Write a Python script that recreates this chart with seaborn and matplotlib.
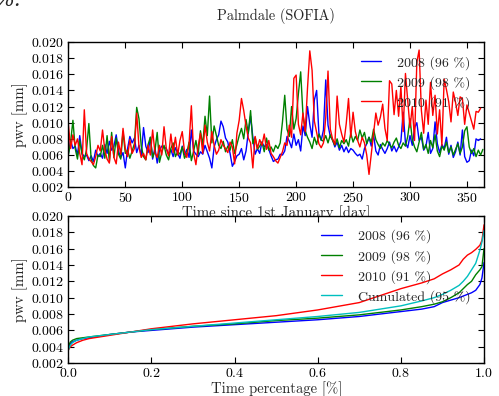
import numpy as np
import pandas as pd
import matplotlib
matplotlib.use("Agg")
import matplotlib.pyplot as plt
import seaborn as sns

# ---------------- data ----------------
days_2008 = list(range(0, 363, 2))
pwv_2008 = [0.0062, 0.0078, 0.0068, 0.0071, 0.0060, 0.0084, 0.0062, 0.0058, 0.0060, 0.0053,
            0.0059, 0.0052, 0.0066, 0.0058, 0.0062, 0.0056, 0.0073, 0.0062, 0.0077, 0.0066,
            0.0071, 0.0085, 0.0065, 0.0057, 0.0063, 0.0044, 0.0068, 0.0083, 0.0075, 0.0081,
            0.0063, 0.0072, 0.0059, 0.0094, 0.0071, 0.0063, 0.0082, 0.0055, 0.0069, 0.0050,
            0.0066, 0.0071, 0.0070, 0.0068, 0.0061, 0.0067, 0.0058, 0.0069, 0.0062, 0.0056,
            0.0071, 0.0060, 0.0067, 0.0057, 0.0091, 0.0065, 0.0061, 0.0058, 0.0064, 0.0061,
            0.0072, 0.0064, 0.0056, 0.0044, 0.0070, 0.0079, 0.0085, 0.0102, 0.0095, 0.0081,
            0.0076, 0.0062, 0.0046, 0.0052, 0.0059, 0.0061, 0.0068, 0.0054, 0.0065, 0.0088,
            0.0108, 0.0082, 0.0061, 0.0068, 0.0062, 0.0076, 0.0070, 0.0073, 0.0067, 0.0059,
            0.0052, 0.0054, 0.0055, 0.0061, 0.0060, 0.0065, 0.0083, 0.0077, 0.0069, 0.0086,
            0.0072, 0.0079, 0.0065, 0.0096, 0.0084, 0.0120, 0.0098, 0.0082, 0.0128, 0.0140,
            0.0087, 0.0078, 0.0091, 0.0153, 0.0097, 0.0083, 0.0079, 0.0070, 0.0076, 0.0066,
            0.0072, 0.0064, 0.0070, 0.0063, 0.0068, 0.0066, 0.0062, 0.0059, 0.0061, 0.0055,
            0.0068, 0.0074, 0.0082, 0.0071, 0.0085, 0.0065, 0.0060, 0.0073, 0.0067, 0.0062,
            0.0068, 0.0076, 0.0065, 0.0071, 0.0064, 0.0070, 0.0077, 0.0113, 0.0075, 0.0069,
            0.0084, 0.0072, 0.0094, 0.0100, 0.0078, 0.0082, 0.0066, 0.0071, 0.0088, 0.0062,
            0.0068, 0.0101, 0.0074, 0.0063, 0.0073, 0.0068, 0.0082, 0.0061, 0.0072, 0.0057,
            0.0064, 0.0076, 0.0060, 0.0091, 0.0058, 0.0051, 0.0053, 0.0066, 0.0059, 0.0080,
            0.0078, 0.0080]

days_2009 = list(range(0, 365, 2))
pwv_2009 = [0.0060, 0.0076, 0.0103, 0.0068, 0.0055, 0.0078, 0.0061, 0.0054, 0.0067, 0.0099,
            0.0055, 0.0047, 0.0044, 0.0060, 0.0058, 0.0072, 0.0056, 0.0084, 0.0052, 0.0088,
            0.0057, 0.0081, 0.0061, 0.0055, 0.0089, 0.0062, 0.0066, 0.0056, 0.0065, 0.0074,
            0.0119, 0.0105, 0.0071, 0.0058, 0.0054, 0.0073, 0.0082, 0.0057, 0.0065, 0.0088,
            0.0051, 0.0063, 0.0072, 0.0060, 0.0054, 0.0068, 0.0075, 0.0058, 0.0064, 0.0061,
            0.0070, 0.0056, 0.0062, 0.0076, 0.0053, 0.0065, 0.0078, 0.0061, 0.0090, 0.0072,
            0.0108, 0.0084, 0.0133, 0.0075, 0.0096, 0.0084, 0.0072, 0.0068, 0.0077, 0.0064,
            0.0071, 0.0066, 0.0079, 0.0062, 0.0073, 0.0084, 0.0093, 0.0080, 0.0104, 0.0087,
            0.0115, 0.0074, 0.0082, 0.0067, 0.0071, 0.0076, 0.0064, 0.0081, 0.0066, 0.0070,
            0.0064, 0.0072, 0.0068, 0.0075, 0.0101, 0.0134, 0.0092, 0.0083, 0.0120, 0.0092,
            0.0105, 0.0136, 0.0163, 0.0110, 0.0090, 0.0082, 0.0076, 0.0068, 0.0082, 0.0073,
            0.0086, 0.0079, 0.0077, 0.0084, 0.0075, 0.0085, 0.0078, 0.0072, 0.0080, 0.0069,
            0.0078, 0.0074, 0.0079, 0.0071, 0.0087, 0.0076, 0.0083, 0.0078, 0.0091, 0.0081,
            0.0088, 0.0074, 0.0082, 0.0076, 0.0092, 0.0079, 0.0073, 0.0068, 0.0075, 0.0071,
            0.0078, 0.0073, 0.0069, 0.0076, 0.0081, 0.0072, 0.0068, 0.0075, 0.0071, 0.0083,
            0.0105, 0.0079, 0.0070, 0.0064, 0.0076, 0.0088, 0.0067, 0.0073, 0.0062, 0.0078,
            0.0069, 0.0085, 0.0065, 0.0058, 0.0071, 0.0066, 0.0076, 0.0063, 0.0070, 0.0060,
            0.0067, 0.0074, 0.0062, 0.0070, 0.0090, 0.0095, 0.0070, 0.0062, 0.0068, 0.0058,
            0.0066, 0.0060, 0.0067]

days_2010 = list(range(0, 363, 2))
pwv_2010 = [0.0098, 0.0068, 0.0085, 0.0072, 0.0080, 0.0062, 0.0048, 0.0116, 0.0062, 0.0055,
            0.0052, 0.0048, 0.0058, 0.0072, 0.0065, 0.0091, 0.0066, 0.0055, 0.0050, 0.0083,
            0.0057, 0.0049, 0.0076, 0.0061, 0.0093, 0.0068, 0.0058, 0.0079, 0.0062, 0.0068,
            0.0112, 0.0070, 0.0057, 0.0062, 0.0054, 0.0072, 0.0060, 0.0091, 0.0063, 0.0057,
            0.0072, 0.0060, 0.0095, 0.0068, 0.0059, 0.0086, 0.0063, 0.0082, 0.0060, 0.0078,
            0.0089, 0.0064, 0.0057, 0.0074, 0.0121, 0.0062, 0.0048, 0.0071, 0.0087, 0.0062,
            0.0097, 0.0076, 0.0065, 0.0089, 0.0072, 0.0061, 0.0066, 0.0079, 0.0072, 0.0068,
            0.0063, 0.0076, 0.0070, 0.0049, 0.0087, 0.0103, 0.0130, 0.0115, 0.0096, 0.0081,
            0.0075, 0.0044, 0.0083, 0.0068, 0.0079, 0.0072, 0.0086, 0.0067, 0.0078, 0.0062,
            0.0058, 0.0053, 0.0050, 0.0057, 0.0064, 0.0075, 0.0072, 0.0097, 0.0082, 0.0155,
            0.0159, 0.0098, 0.0085, 0.0112, 0.0089, 0.0143, 0.0189, 0.0165, 0.0102, 0.0088,
            0.0074, 0.0069, 0.0075, 0.0106, 0.0164, 0.0092, 0.0080, 0.0073, 0.0133, 0.0098,
            0.0086, 0.0076, 0.0099, 0.0130, 0.0082, 0.0113, 0.0089, 0.0078, 0.0070, 0.0082,
            0.0075, 0.0060, 0.0036, 0.0061, 0.0085, 0.0112, 0.0097, 0.0107, 0.0123, 0.0093,
            0.0078, 0.0152, 0.0148, 0.0110, 0.0140, 0.0108, 0.0145, 0.0089, 0.0161, 0.0128,
            0.0094, 0.0120, 0.0078, 0.0175, 0.0190, 0.0115, 0.0087, 0.0128, 0.0098, 0.0150,
            0.0109, 0.0134, 0.0086, 0.0116, 0.0072, 0.0154, 0.0141, 0.0126, 0.0101, 0.0138,
            0.0125, 0.0109, 0.0132, 0.0130, 0.0098, 0.0122, 0.0112, 0.0102, 0.0092, 0.0114,
            0.0113, 0.0118]

# cumulative (sorted) distributions
time_frac = [0, 0.002, 0.005, 0.01, 0.02, 0.035, 0.05, 0.1, 0.15, 0.2, 0.3, 0.4, 0.5, 0.6,
             0.7, 0.8, 0.85, 0.88, 0.9, 0.92, 0.94, 0.95, 0.96, 0.97, 0.98, 0.99, 0.995, 1.0]
cum_2008 = [0.0039, 0.0041, 0.0044, 0.0046, 0.0048, 0.0050, 0.0051, 0.0055, 0.0058, 0.0060,
            0.0064, 0.0067, 0.0070, 0.0073, 0.0077, 0.0083, 0.0086, 0.0089, 0.0094, 0.0097,
            0.0100, 0.0102, 0.0104, 0.0106, 0.0109, 0.0116, 0.0124, 0.0143]
cum_2009 = [0.0040, 0.0043, 0.0046, 0.0048, 0.0050, 0.0051, 0.0052, 0.0055, 0.0058, 0.0061,
            0.0065, 0.0068, 0.0072, 0.0075, 0.0079, 0.0085, 0.0089, 0.0092, 0.0095, 0.0100,
            0.0106, 0.0111, 0.0116, 0.0120, 0.0128, 0.0134, 0.0138, 0.0160]
cum_2010 = [0.0036, 0.0038, 0.0040, 0.0042, 0.0045, 0.0048, 0.0050, 0.0054, 0.0058, 0.0062,
            0.0068, 0.0073, 0.0078, 0.0085, 0.0094, 0.0111, 0.0118, 0.0123, 0.0129, 0.0134,
            0.0140, 0.0147, 0.0152, 0.0155, 0.0159, 0.0164, 0.0170, 0.0189]
cum_all = [0.0036, 0.0039, 0.0042, 0.0045, 0.0048, 0.0050, 0.0052, 0.0055, 0.0058, 0.0061,
           0.0065, 0.0069, 0.0073, 0.0077, 0.0082, 0.0090, 0.0096, 0.0100, 0.0104, 0.0109,
           0.0115, 0.0120, 0.0126, 0.0134, 0.0142, 0.0158, 0.0168, 0.0182]

labels = ["2008 (96 %)", "2009 (98 %)", "2010 (91 %)", "Cumulated (95 %)"]
colors = ["#0000ff", "#008000", "#ff0000", "#00bfbf"]
x_ticks_top = [0, 50, 100, 150, 200, 250, 300, 350]
y_ticks = [0.002, 0.004, 0.006, 0.008, 0.010, 0.012, 0.014, 0.016, 0.018, 0.020]

# ---------------- style ----------------
sns.set_style("ticks")
plt.rcParams.update({
    "font.family": ["cmr10", "DejaVu Serif"],
    "mathtext.fontset": "cm",
    "axes.formatter.use_mathtext": True,
    "font.size": 10,
    "xtick.direction": "in",
    "ytick.direction": "in",
    "xtick.top": True,
    "ytick.right": True,
    "xtick.major.size": 4,
    "ytick.major.size": 4,
    "xtick.major.pad": 3,
    "ytick.major.pad": 3,
    "axes.edgecolor": "black",
    "axes.linewidth": 1.0,
    "xtick.color": "black",
    "ytick.color": "black",
})

fig = plt.figure(figsize=(4.99, 3.96), dpi=100)
ax1 = fig.add_axes([0.137, 0.527, 0.833, 0.367])
ax2 = fig.add_axes([0.137, 0.083, 0.833, 0.372])

for d, v, c, lab in zip([days_2008, days_2009, days_2010],
                        [pwv_2008, pwv_2009, pwv_2010], colors[:3], labels[:3]):
    sns.lineplot(x=d, y=v, color=c, label=lab, ax=ax1, linewidth=1.0, sort=False)

for v, c, lab in zip([cum_2008, cum_2009, cum_2010, cum_all], colors, labels):
    sns.lineplot(x=time_frac, y=v, color=c, label=lab, ax=ax2, linewidth=1.0, sort=False)

ax1.set_xlim(0, 365)
ax1.set_ylim(0.002, 0.020)
ax1.set_xticks(x_ticks_top)
ax1.set_yticks(y_ticks)
ax1.set_xlabel("Time since 1st January [day]", fontsize=10.7, labelpad=0)
ax1.set_ylabel("pwv [mm]", fontsize=10.7, labelpad=2)
ax1.set_title("Palmdale (SOFIA)", fontsize=10.3, pad=16)

ax2.set_xlim(0, 1)
ax2.set_ylim(0.002, 0.020)
ax2.set_yticks(y_ticks)
ax2.set_xlabel("Time percentage [%]", fontsize=10.5, labelpad=1)
ax2.set_ylabel("pwv [mm]", fontsize=10.7, labelpad=2)

for ax in (ax1, ax2):
    leg = ax.legend(loc="upper right", frameon=False, fontsize=10,
                    handlelength=1.5, handletextpad=1.1, labelspacing=0.45,
                    borderaxespad=0.6)

fig.text(-0.012, 0.984, "%.", fontsize=15, style="italic", family="DejaVu Serif",
         va="baseline", ha="left")

fig.savefig("out.png", dpi=100)
